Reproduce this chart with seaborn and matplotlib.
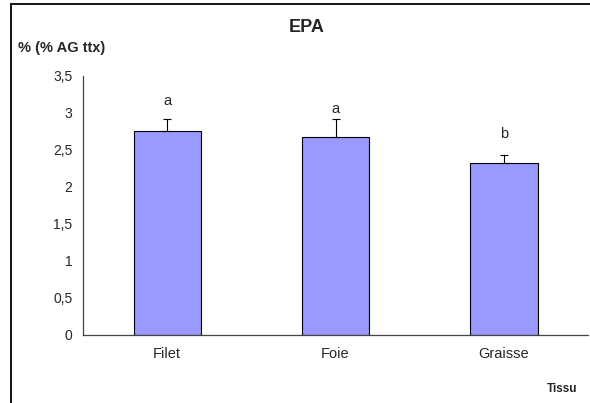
import numpy as np
import matplotlib
matplotlib.use("Agg")
import matplotlib.pyplot as plt
import seaborn as sns
from matplotlib.lines import Line2D

tissues = ["Filet", "Foie", "Graisse"]
epa_means = [2.745, 2.67, 2.315]
epa_err = [0.165, 0.24, 0.115]
letters = ["a", "a", "b"]
letter_y = [3.16, 3.05, 2.71]
y_ticks = [0, 0.5, 1, 1.5, 2, 2.5, 3, 3.5]
y_tick_labels = ["0", "0,5", "1", "1,5", "2", "2,5", "3", "3,5"]

sns.set_style("white")
plt.rcParams["font.family"] = ["Liberation Sans", "DejaVu Sans"]

W, H = 590, 403
fig = plt.figure(figsize=(W / 100, H / 100), dpi=100)
ax = fig.add_axes([83 / W, 1 - 334.5 / H, 505 / W, 259 / H])

sns.barplot(x=tissues, y=epa_means, color="#9999FF", saturation=1,
            edgecolor="black", linewidth=0.8, width=0.40, ax=ax)

# upper error bars only
xpos = np.arange(len(tissues))
ax.errorbar(xpos, epa_means, yerr=[np.zeros(len(epa_err)), epa_err],
            fmt="none", ecolor="black", elinewidth=0.8, capsize=3, capthick=0.8)

for x, lab, ly in zip(xpos, letters, letter_y):
    ax.text(x, ly, lab, ha="center", va="center", fontsize=10.5)

ax.set_xlim(-0.5, 2.5)
ax.set_ylim(0, 3.5)
ax.set_yticks(y_ticks)
ax.set_yticklabels(y_tick_labels, fontsize=10)
ax.set_xticks(xpos)
ax.set_xticklabels(tissues, fontsize=10.5)
ax.set_xticks([-0.5, 0.5, 1.5, 2.5], minor=True)
ax.tick_params(axis="x", which="major", length=0, pad=9)
ax.tick_params(axis="x", which="minor", length=3.5, direction="out", color="#444444", width=0.8)
ax.tick_params(axis="y", length=3.5, direction="out", color="#444444", width=0.8, pad=4)
ax.set_xlabel("")
ax.set_ylabel("")
for s in ["top", "right"]:
    ax.spines[s].set_visible(False)
for s in ["left", "bottom"]:
    ax.spines[s].set_color("#444444")
    ax.spines[s].set_linewidth(0.9)

fig.text(306.5 / W, 1 - 28 / H, "EPA", ha="center", va="center",
         fontsize=13, fontweight="bold")
fig.text(18 / W, 1 - 48 / H, "% (% AG ttx)", ha="left", va="center",
         fontsize=10.5, fontweight="bold")
fig.text(577 / W, 1 - 389 / H, "Tissu", ha="right", va="center",
         fontsize=8.5, fontweight="bold")

# chart area frame: only its top and left edges fall inside the image
fig.add_artist(Line2D([10.8 / W, 1.0], [1 - 3.5 / H, 1 - 3.5 / H],
                      transform=fig.transFigure, color="black", linewidth=1.3))
fig.add_artist(Line2D([10.8 / W, 10.8 / W], [0, 1 - 3.5 / H],
                      transform=fig.transFigure, color="black", linewidth=1.3))

fig.savefig("out.png", dpi=100)
